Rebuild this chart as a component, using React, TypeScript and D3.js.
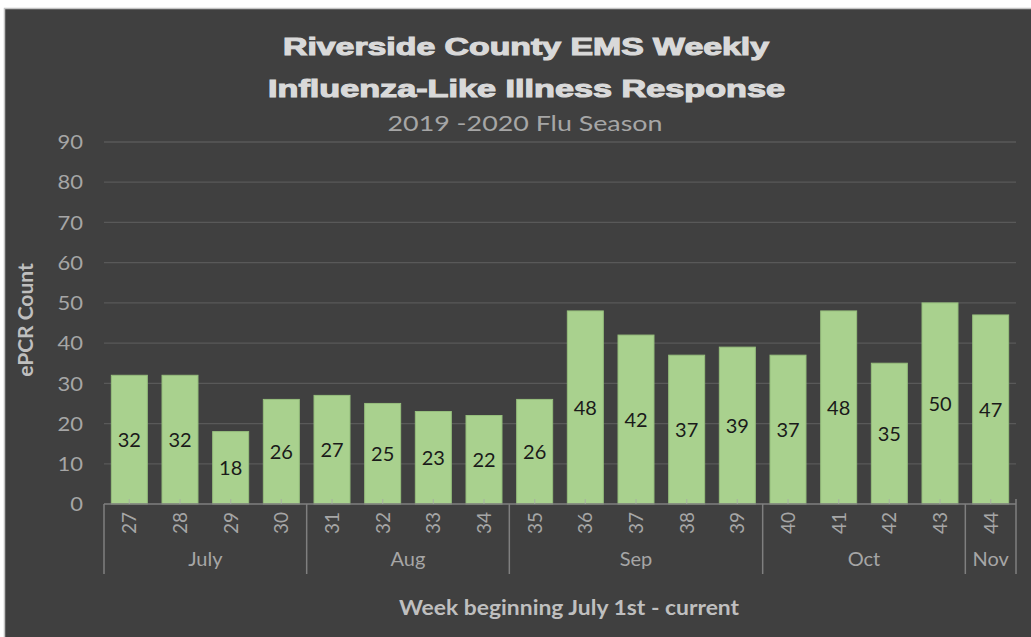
import React from 'react';
import * as d3 from 'd3';

const weeks = ['27', '28', '29', '30', '31', '32', '33', '34', '35', '36', '37', '38', '39', '40', '41', '42', '43', '44'];
const counts = [32, 32, 18, 26, 27, 25, 23, 22, 26, 48, 42, 37, 39, 37, 48, 35, 50, 47];
const monthNames = ['July', 'Aug', 'Sep', 'Oct', 'Nov'];
const monthWeekCounts = [4, 4, 5, 4, 1];
const yTicks = [0, 10, 20, 30, 40, 50, 60, 70, 80, 90];

const W = 1031;
const H = 637;
const plot = { left: 104, right: 1016, top: 142, bottom: 504 };
const font = 'Lato, "Open Sans", sans-serif';

export default function App() {
  const x = d3.scaleBand<string>()
    .domain(weeks)
    .range([plot.left, plot.right])
    .paddingInner(0.29)
    .paddingOuter(0.145);
  const y = d3.scaleLinear().domain([0, 90]).range([plot.bottom, plot.top]);
  const step = x.step();
  const mid = (w: string) => (x(w) as number) + x.bandwidth() / 2;

  // month group boundaries (slot edges)
  const bounds: number[] = [plot.left];
  let acc = 0;
  monthWeekCounts.forEach(c => {
    acc += c;
    bounds.push(plot.left + acc * step);
  });

  return (
    <svg width={W} height={H} style={{ position: 'absolute', left: 0, top: 0 }}>
      <rect x={0} y={0} width={W} height={H} fill="#ffffff" />
      <rect x={4.5} y={8.5} width={W} height={H} fill="#404040" stroke="#c4c4c4" strokeWidth={1.5} />

      {/* title */}
      <text x={283} y={55} fill="#d9d9d9" stroke="#d9d9d9" strokeWidth={1.1}
        fontFamily='"Liberation Sans", Arial, sans-serif' fontWeight="bold" fontSize={24}
        textLength={486} lengthAdjust="spacingAndGlyphs">Riverside County EMS Weekly</text>
      <text x={268} y={97} fill="#d9d9d9" stroke="#d9d9d9" strokeWidth={1.1}
        fontFamily='"Liberation Sans", Arial, sans-serif' fontWeight="bold" fontSize={24}
        textLength={517} lengthAdjust="spacingAndGlyphs">Influenza-Like Illness Response</text>
      <text transform="translate(525,131) scale(1.22,1)" fill="#a6a6a6" fontFamily={font} fontSize={22} textAnchor="middle">
        2019 -2020 Flu Season
      </text>

      {/* gridlines */}
      {yTicks.filter(t => t > 0).map(t => (
        <line key={t} x1={plot.left} x2={plot.right} y1={y(t)} y2={y(t)} stroke="#595959" strokeWidth={1.3} />
      ))}
      {yTicks.map(t => (
        <text key={t} transform={`translate(83,${y(t)}) scale(1.1,1)`} dy="0.36em" textAnchor="end"
          fill="#a6a6a6" fontFamily={font} fontSize={20}>
          {t}
        </text>
      ))}

      {/* bars */}
      {counts.map((v, i) => (
        <rect key={i} x={x(weeks[i])} y={y(v)} width={x.bandwidth()} height={y(0) - y(v)}
          fill="#a9d18e" stroke="#97bf7d" strokeWidth={1} />
      ))}
      {counts.map((v, i) => (
        <text key={i} x={mid(weeks[i])} y={y(v / 2)} dy="0.36em"
          textAnchor="middle" fill="#1a1a1a" fontFamily={font} fontSize={20}>
          {v}
        </text>
      ))}

      {/* axis */}
      <line x1={plot.left} x2={plot.right} y1={plot.bottom} y2={plot.bottom} stroke="#7f7f7f" strokeWidth={1.5} />
      {weeks.map(w => (
        <line key={w} x1={mid(w)} x2={mid(w)}
          y1={plot.bottom - 5} y2={plot.bottom} stroke="#a6a6a6" strokeOpacity={0.6} strokeWidth={1.3} />
      ))}
      {bounds.map((b, i) => (
        <line key={i} x1={b} x2={b} y1={i === bounds.length - 1 ? plot.bottom - 5 : plot.bottom} y2={574}
          stroke="#7f7f7f" strokeWidth={1.5} />
      ))}
      {weeks.map(w => (
        <text key={w} transform={`translate(${mid(w)},512) rotate(-90)`}
          textAnchor="end" dy="0.36em" fill="#a6a6a6" fontFamily={font} fontSize={19}>
          {w}
        </text>
      ))}
      {monthNames.map((m, i) => (
        <text key={m} x={(bounds[i] + bounds[i + 1]) / 2} y={566} textAnchor="middle"
          fill="#a6a6a6" fontFamily={font} fontSize={20}>
          {m}
        </text>
      ))}

      {/* axis titles */}
      <text transform="translate(33,320) rotate(-90)" textAnchor="middle" fill="#bfbfbf"
        fontFamily={font} fontWeight="bold" fontSize={21}>ePCR Count</text>
      <text transform="translate(569,615) scale(1.09,1)" textAnchor="middle" fill="#bfbfbf"
        fontFamily={font} fontWeight="bold" fontSize={21}>
        Week beginning July 1st - current
      </text>
    </svg>
  );
}
